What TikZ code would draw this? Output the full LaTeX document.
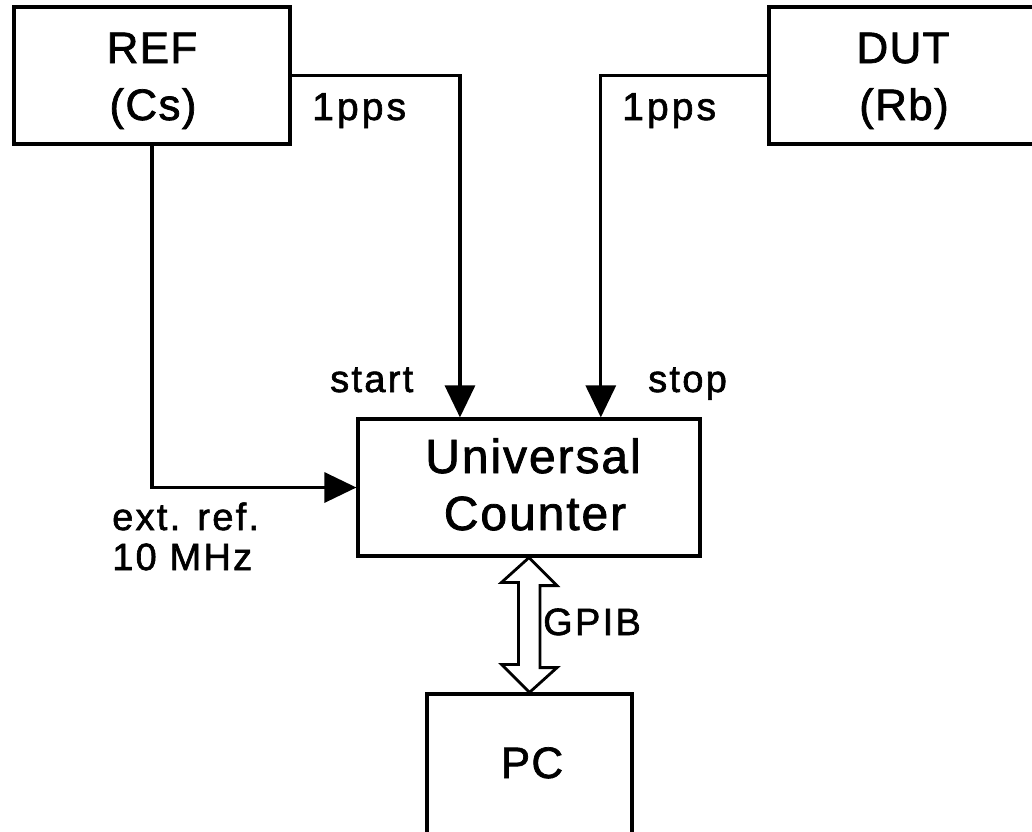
\documentclass[tikz,border=0pt]{standalone}
\usepackage{fontspec}
\setmainfont{Liberation Sans}
\newfontfamily\bigfont[LetterSpace=3,RawFeature={embolden=1.6}]{Liberation Sans}
\newfontfamily\midfont[LetterSpace=4,RawFeature={embolden=1.6}]{Liberation Sans}
\newfontfamily\lblfont[LetterSpace=6,RawFeature={embolden=1.6}]{Liberation Sans}
\newfontfamily\ppsfont[LetterSpace=8,RawFeature={embolden=1.6}]{Liberation Sans}
\usetikzlibrary{arrows.meta,calc}
\begin{document}
\begin{tikzpicture}[x=1pt,y=-1pt,
  box/.style={draw,line width=3.2pt,inner sep=0pt,minimum width=#1},
  conn/.style={line width=3.2pt,-{Triangle[length=32pt,width=30pt]}},
  bigtxt/.style={font=\bigfont\fontsize{44}{52}\selectfont,inner sep=0pt,anchor=base},
  ctrtxt/.style={font=\midfont\fontsize{48}{56}\selectfont,inner sep=0pt,anchor=base},
  smalltxt/.style={font=\lblfont\fontsize{38}{46}\selectfont,inner sep=0pt,anchor=base west},
  ppstxt/.style={font=\ppsfont\fontsize{39}{46}\selectfont,inner sep=0pt,anchor=base west},
  bus/.style={draw,line width=2.8pt,line join=miter,fill=white}]
\useasboundingbox (0,0) rectangle (1032,831);

% instruments
\node[box=276pt,minimum height=137pt] (ref) at (152,75.5) {};
\node[box=268pt,minimum height=137pt] (dut) at (903,75.5) {};
\node[box=342pt,minimum height=137pt] (ctr) at (529,487.5) {};
\node[box=205pt,minimum height=141pt] (pc)  at (529.5,764.5) {};

% box captions
\node[bigtxt] (reft1) at (152,63)  {REF};
\node[bigtxt] (reft2) at (153,120) {(Cs)};
\node[bigtxt] (dutt1) at (903,63)  {DUT};
\node[bigtxt] (dutt2) at (904,120) {(Rb)};
\node[ctrtxt] (ctrt1) at (533,473) {Universal};
\node[ctrtxt] (ctrt2) at (535,530) {Counter};
\node[bigtxt] (pct)   at (532,778) {PC};

% signal lines into the counter
\coordinate (startin) at ($(ctr.north west)!0.3!(ctr.north east)$);
\coordinate (stopin)  at ($(ctr.north west)!0.708!(ctr.north east)$);
\draw[conn] (ref.east) -| (startin);
\draw[conn] (dut.west) -| (stopin);
\draw[conn] (ref.south) |- (ctr.west);

% line labels
\node[ppstxt]   (pps1)  at (312,120) {1pps};
\node[ppstxt]   (pps2)  at (622,120) {1pps};
\node[smalltxt] (start) at (330,392) {start};
\node[smalltxt] (stop)  at (648,392) {stop};
\node[smalltxt] (ext1)  at (112,530) {ext. ref.};
\node[smalltxt] (ext2)  at (112,570) {10 MHz};

% GPIB bus between counter and PC
\draw[bus] (ctr.south) -- ++(28,28) -- ++(-17,0) -- ++(0,82) -- ++(17,0)
  -- (pc.north) -- ++(-28,-28) -- ++(17,0) -- ++(0,-82) -- ++(-17,0) -- cycle;
\node[smalltxt] (gpib) at (543,635) {GPIB};
\end{tikzpicture}
\end{document}
